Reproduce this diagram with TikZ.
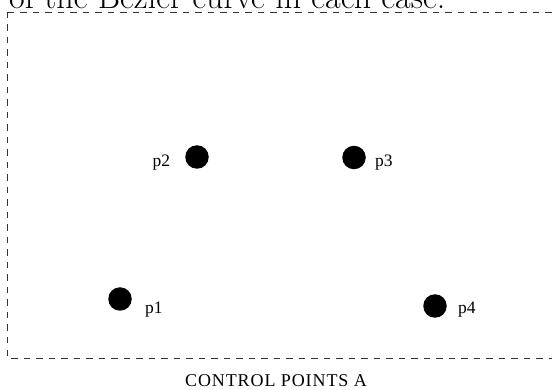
\documentclass[tikz,border=0pt]{standalone}
\usepackage{fontspec}
\newfontfamily\ptfont{Liberation Serif}
\newfontfamily\capfont[LetterSpace=5]{Liberation Serif}
\usepackage{tikz}
\usetikzlibrary{positioning}

\begin{document}
\begin{tikzpicture}[x=1pt, y=-1pt,
  ctrl/.style={circle, fill=black, minimum size=23.5pt, inner sep=0pt},
  plabel/.style={font=\ptfont\fontsize{17.5}{18}\selectfont, inner sep=0pt, anchor=base west},
  frame/.style={draw=black!80, line width=0.9pt, dash pattern=on 6.5pt off 6pt}]
\useasboundingbox (0,0) rectangle (552,390);
\clip (0,0) rectangle (552,390);
% heading of the page, cut off at the top
\node[font=\fontsize{34}{34}\selectfont, anchor=base west, inner sep=0pt] (head) at (9,8.5) {of the Bezier curve in each case.};
% dashed panel
\draw[frame] (7.5,12) -- (7.5,358.5) -- (570,358.5);
\draw[frame] (7.5,12) -- (570,12);
% control points
\node[ctrl] (p1) at (120,299) {};
\node[ctrl] (p2) at (197,157) {};
\node[ctrl] (p3) at (354,157.5) {};
\node[ctrl] (p4) at (435,306) {};
\node[plabel] (p1lbl) at (145,314) {p1};
\node[plabel] (p2lbl) at (152.3,166.5) {p2};
\node[plabel] (p3lbl) at (375,166.7) {p3};
\node[plabel] (p4lbl) at (458,313.3) {p4};
\node[font=\capfont\fontsize{18}{18}\selectfont, inner sep=0pt, anchor=base] (cap) at (276,386) {CONTROL POINTS A};
\end{tikzpicture}
\end{document}
